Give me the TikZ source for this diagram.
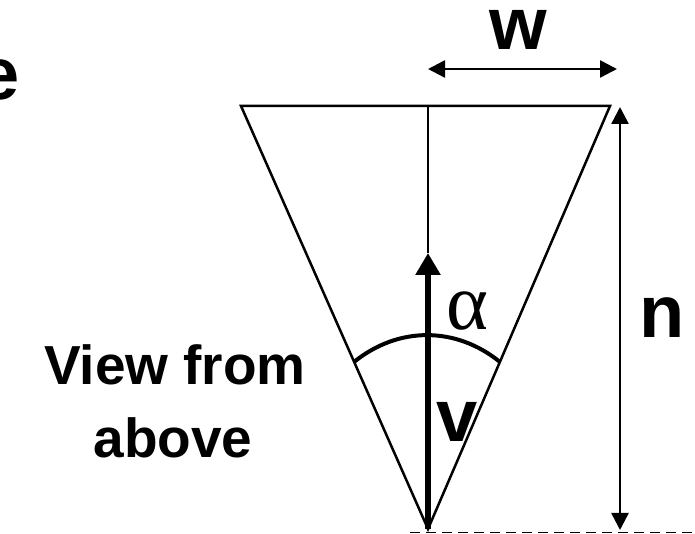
\documentclass[tikz,border=0pt]{standalone}
\usepackage{fontspec}
\setmainfont{Liberation Sans}
\newfontfamily\greekfont{Liberation Serif}
\usetikzlibrary{arrows.meta}

\begin{document}
\begin{tikzpicture}[x=1pt,y=1pt,
    bigtxt/.style={font=\fontsize{74}{80}\selectfont\bfseries, inner sep=0pt, text height=0.56em},
    midtxt/.style={font=\fontsize{55}{60}\selectfont\bfseries, inner sep=0pt},
    side/.style={line width=2.5pt},
    dimarrow/.style={line width=2.5pt, {Triangle[length=17pt,width=17pt]}-{Triangle[length=17pt,width=17pt]}}]
    \useasboundingbox (0,0) rectangle (695,534);

    % Cone seen from above
    \coordinate (apex) at (428,5);
    \coordinate (tl) at (241,428);
    \coordinate (tr) at (610,428);
    \coordinate (tm) at (428,428);
    \coordinate (vtip) at (428,281);
    \draw[side] (tl) -- (tr) -- (apex) -- cycle;
    \draw[side] (tm) -- (vtip);

    % View vector
    \draw[line width=6pt, -{Triangle[length=22pt,width=24pt]}] (apex) -- (vtip);
    \node[bigtxt, anchor=base] (vlbl) at (457,92) {v};

    % Opening angle
    \coordinate (al) at (354,172);
    \coordinate (ar) at (500,172);
    \draw[line width=4pt] (al) to[out=39, in=141] (ar);
    \node[font=\greekfont\fontsize{80}{86}\selectfont, inner sep=0pt, anchor=base] (alpha) at (467,204) {α};

    % Width and height
    \coordinate (wl) at (428,465);
    \coordinate (wr) at (617,465);
    \draw[dimarrow] (wl) -- (wr);
    \node[bigtxt, anchor=base] (wlbl) at (518,484) {w};
    \coordinate (nt) at (620,427);
    \coordinate (nb) at (620,4);
    \draw[dimarrow] (nt) -- (nb);
    \node[bigtxt, anchor=base] (nlbl) at (662,196) {n};

    % Ground line
    \coordinate (g1) at (410,1.5);
    \coordinate (g2) at (695,1.5);
    \draw[line width=1.5pt, dash pattern=on 10pt off 6pt] (g1) -- (g2);

    % Labels
    \node[bigtxt, anchor=base east] (elbl) at (20,434) {e};
    \node[midtxt, anchor=base] (view) at (175,149) {View from};
    \node[midtxt, anchor=base] (above) at (173,76) {above};
\end{tikzpicture}
\end{document}
